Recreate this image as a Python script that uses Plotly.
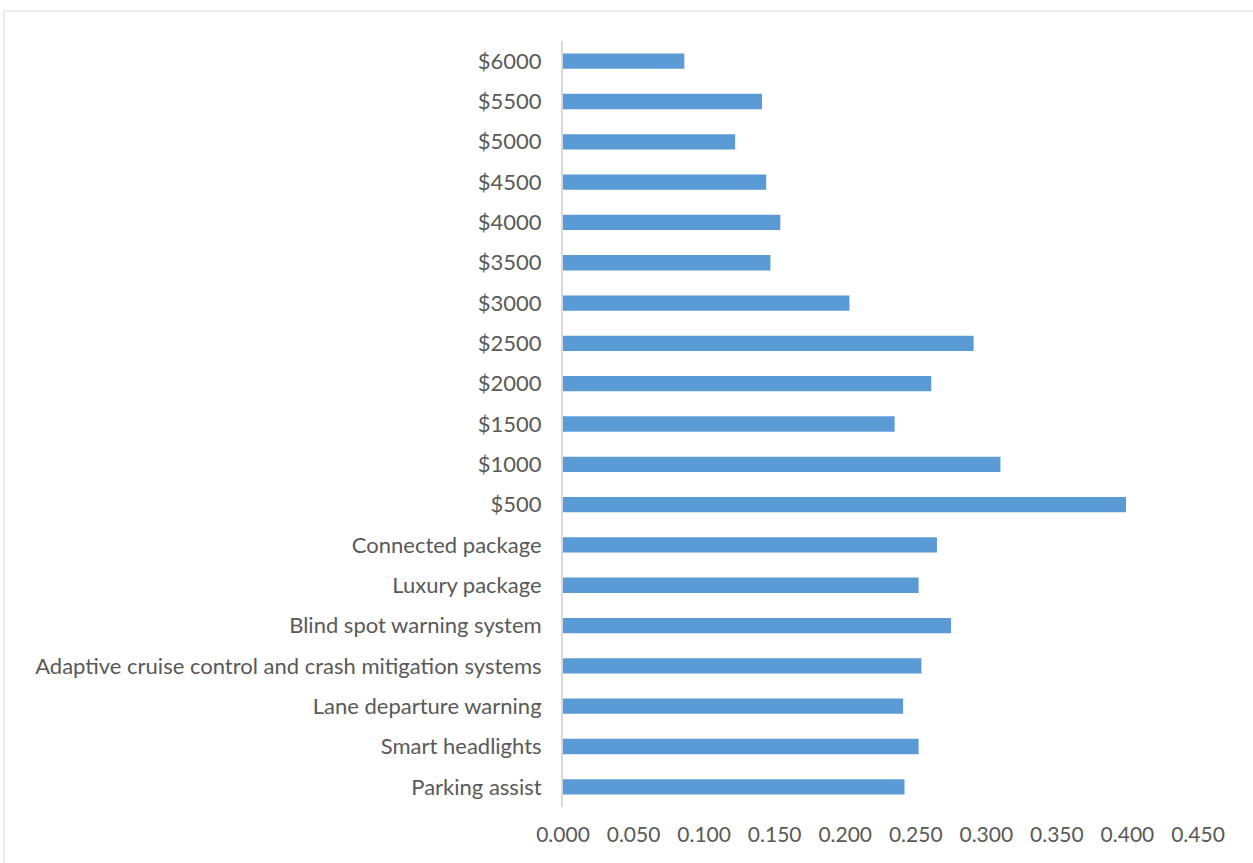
import plotly.graph_objects as go

# Categories listed bottom-to-top
categories = [
    "Parking assist",
    "Smart headlights",
    "Lane departure warning",
    "Adaptive cruise control and crash mitigation systems",
    "Blind spot warning system",
    "Luxury package",
    "Connected package",
    "$500", "$1000", "$1500", "$2000", "$2500", "$3000",
    "$3500", "$4000", "$4500", "$5000", "$5500", "$6000",
]
values = [
    0.242, 0.252, 0.241, 0.254, 0.275, 0.252, 0.265,
    0.399, 0.310, 0.235, 0.261, 0.291, 0.203,
    0.147, 0.154, 0.144, 0.122, 0.141, 0.086,
]
x_ticks = [0.0, 0.05, 0.1, 0.15, 0.2, 0.25, 0.3, 0.35, 0.4, 0.45]
x_tick_labels = [f"{v:.3f}" for v in x_ticks]

font_family = "Lato, 'Open Sans', sans-serif"
text_color = "#595959"

fig = go.Figure(
    go.Bar(
        x=values,
        y=categories,
        orientation="h",
        marker=dict(color="#5B9BD5", line=dict(width=0)),
        hoverinfo="x+y",
    )
)

fig.update_layout(
    width=1253,
    height=863,
    margin=dict(l=563, r=55, t=41, b=56),
    paper_bgcolor="white",
    plot_bgcolor="white",
    bargap=0.62,
    showlegend=False,
    font=dict(family=font_family, size=21, color=text_color),
    shapes=[
        # outer chart frame
        dict(type="rect", xref="paper", yref="paper",
             x0=-0.8803, x1=1.3, y0=-0.3, y1=1.0392,
             line=dict(color="#d9d9d9", width=1), fillcolor="rgba(0,0,0,0)",
             layer="below"),
    ],
)

fig.update_xaxes(
    range=[0, 0.45],
    tickvals=x_ticks,
    ticktext=x_tick_labels,
    showgrid=False,
    zeroline=False,
    showline=False,
    ticks="",
    ticklabelstandoff=13,
    tickfont=dict(family=font_family, size=21, color=text_color),
    fixedrange=True,
)

fig.update_yaxes(
    type="category",
    categoryorder="array",
    categoryarray=categories,
    showgrid=False,
    zeroline=False,
    showline=True,
    linecolor="#d9d9d9",
    linewidth=2,
    ticks="",
    ticklabelstandoff=15,
    tickfont=dict(family=font_family, size=22, color=text_color),
    fixedrange=True,
)

fig.write_html("out.html")
